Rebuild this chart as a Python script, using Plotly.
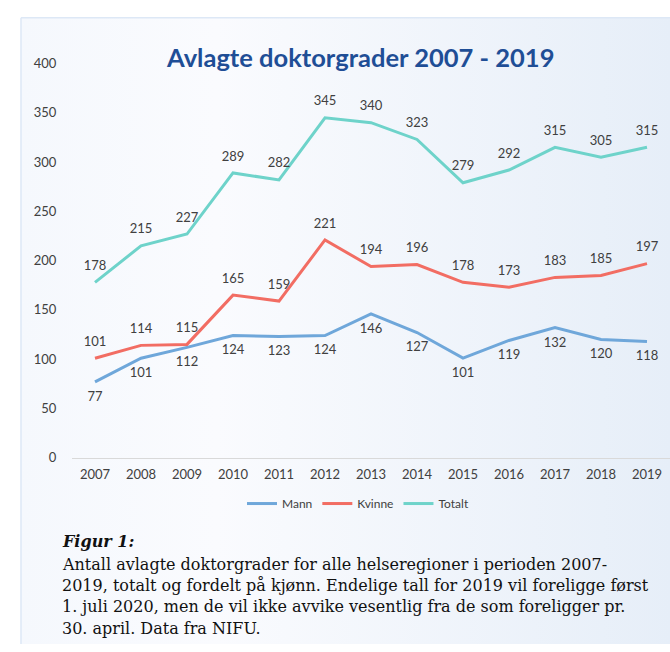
import plotly.graph_objects as go

# data
years = list(range(2007, 2020))
mann = [77, 101, 112, 124, 123, 124, 146, 127, 101, 119, 132, 120, 118]
kvinne = [101, 114, 115, 165, 159, 221, 194, 196, 178, 173, 183, 185, 197]
totalt = [178, 215, 227, 289, 282, 345, 340, 323, 279, 292, 315, 305, 315]

series = [
    ("Mann", mann, "#6FA7DA", "bottom center"),
    ("Kvinne", kvinne, "#F26D63", "top center"),
    ("Totalt", totalt, "#6ED3CA", "top center"),
]

title = "Avlagte doktorgrader 2007 - 2019"
caption_head = "Figur 1:"
caption_lines = [
    "Antall avlagte doktorgrader for alle helseregioner i perioden 2007-",
    "2019, totalt og fordelt på kjønn. Endelige tall for 2019 vil foreligge først",
    "1. juli 2020, men de vil ikke avvike vesentlig fra de som foreligger pr.",
    "30. april. Data fra NIFU.",
]

W, H = 670, 652
FONT = "Lato"
SERIF = "DejaVu Serif"
TXT = "#404040"


def py(p):
    # pixel row -> paper y
    return 1 - p / H


fig = go.Figure()

# light blue gradient panel behind the chart (background axes in pixel space)
fig.add_trace(go.Scatter(
    x=[21, 672, 672, 21, 21], y=[10, 10, 654, 654, 10],
    xaxis="x", yaxis="y", mode="lines", fill="toself",
    line=dict(color="#DDE8F6", width=1.5),
    fillgradient=dict(type="horizontal",
                      colorscale=[[0, "#F5F8FD"], [0.3, "#FAFBFE"], [1, "#E6EEF8"]]),
    hoverinfo="skip", showlegend=False,
))

for name, vals, color, pos in series:
    fig.add_trace(go.Scatter(
        x=years, y=vals, name=name, mode="lines",
        line=dict(color=color, width=3),
        xaxis="x2", yaxis="y2",
    ))
for name, vals, color, pos in series:
    fig.add_trace(go.Scatter(
        x=years, y=vals, mode="markers+text",
        marker=dict(size=13, color="rgba(0,0,0,0)"),
        text=[str(v) for v in vals], textposition=pos,
        textfont=dict(family=FONT, size=13, color=TXT),
        xaxis="x2", yaxis="y2", showlegend=False, hoverinfo="skip",
    ))

annotations = [
    dict(text=f"<b>{title}</b>", x=360 / W, y=py(50), xref="paper", yref="paper",
         showarrow=False, xanchor="center", yanchor="middle",
         font=dict(family=FONT, size=25.5, color="#1F4E96")),
    dict(text=f"<b><i>{caption_head}</i></b>", x=60 / W, y=py(547), xref="paper", yref="paper",
         showarrow=False, xanchor="left", yanchor="middle",
         font=dict(family=SERIF, size=16, color="#111111")),
]
for i, line in enumerate(caption_lines):
    annotations.append(dict(
        text=line, x=60 / W, y=py(570 + 22 * i), xref="paper", yref="paper",
        showarrow=False, xanchor="left", yanchor="middle",
        font=dict(family=SERIF, size=16, color="#111111")))

fig.update_layout(
    width=W, height=H, autosize=False,
    margin=dict(l=0, r=0, t=0, b=0),
    paper_bgcolor="white", plot_bgcolor="rgba(0,0,0,0)",
    xaxis=dict(domain=[0, 1], range=[0, W], visible=False, fixedrange=True),
    yaxis=dict(domain=[0, 1], range=[H, 0], visible=False, fixedrange=True),
    xaxis2=dict(domain=[72 / W, 1], range=[2006.5, 2019.5], anchor="y2",
                tickvals=years, ticktext=[str(y) for y in years],
                showgrid=False, zeroline=False,
                showline=True, linecolor="#D9D9D9", linewidth=1,
                ticks="outside", ticklen=5, tickcolor="rgba(0,0,0,0)",
                tickfont=dict(family=FONT, size=13, color=TXT)),
    yaxis2=dict(domain=[py(461), py(57)], range=[0, 400], anchor="x2",
                tickvals=list(range(0, 401, 50)),
                showgrid=False, zeroline=False, showline=False,
                ticks="outside", ticklen=12, tickcolor="rgba(0,0,0,0)",
                tickfont=dict(family=FONT, size=13, color=TXT)),
    showlegend=True,
    legend=dict(orientation="h", x=358 / W, y=py(508), xanchor="center", yanchor="middle",
                bgcolor="rgba(0,0,0,0)", itemwidth=30,
                font=dict(family=FONT, size=12, color=TXT)),
    annotations=annotations,
)

# drop the default page margin so the figure sits at the window's corner
fig.write_html("out.html", config={"displayModeBar": False},
               post_script="document.body.style.margin='0';"
                           "document.body.style.overflow='hidden';")
